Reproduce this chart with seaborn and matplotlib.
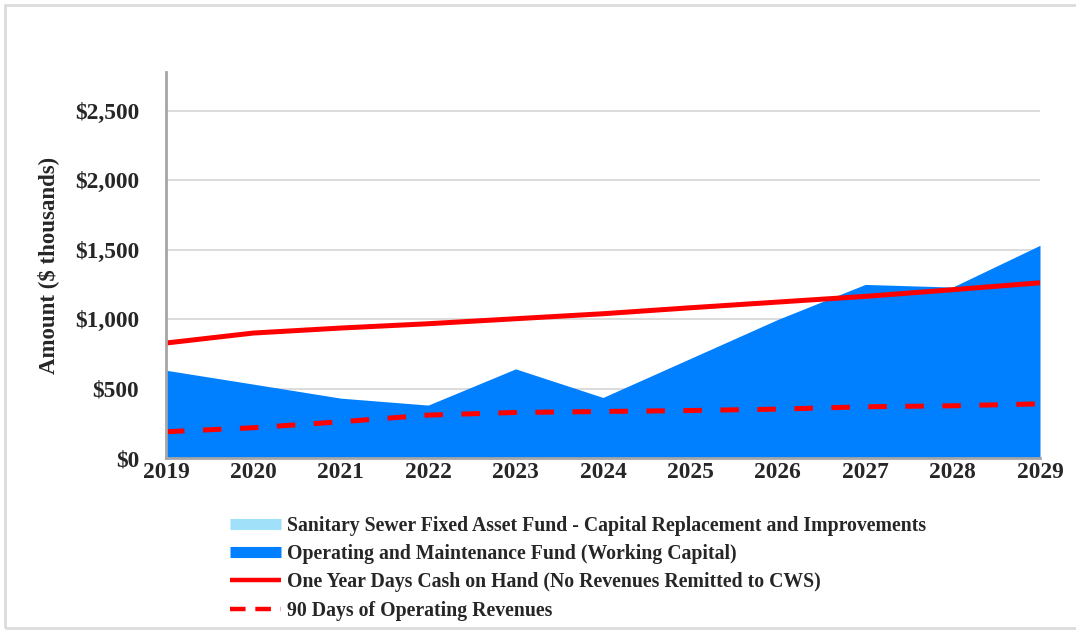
import numpy as np
import pandas as pd
import seaborn as sns
import matplotlib
matplotlib.use("Agg")
import matplotlib.pyplot as plt
from matplotlib.lines import Line2D
from matplotlib.patches import Rectangle
from matplotlib.ticker import FuncFormatter

years = [2019, 2020, 2021, 2022, 2023, 2024, 2025, 2026, 2027, 2028, 2029]
sewer_fund = [0, 0, 0, 0, 0, 0, 0, 0, 0, 0, 0]
om_fund = [632, 532, 431, 381, 642, 436, 717, 998, 1250, 1231, 1532]
one_year_cash = [828, 900, 936, 967, 1003, 1039, 1082, 1123, 1164, 1212, 1262]
ninety_days = [189, 218, 261, 309, 328, 335, 342, 352, 369, 376, 390]
y_ticks = [0, 500, 1000, 1500, 2000, 2500]

labels = [
    "Sanitary Sewer Fixed Asset Fund - Capital Replacement and Improvements",
    "Operating and Maintenance Fund (Working Capital)",
    "One Year Days Cash on Hand (No Revenues Remitted to CWS)",
    "90 Days of Operating Revenues",
]

df = pd.DataFrame({"year": years, "sewer": sewer_fund, "om": om_fund,
                   "cash": one_year_cash, "ninety": ninety_days})

sns.set_theme(style="white")
plt.rcParams["font.family"] = ["Liberation Serif", "DejaVu Serif"]
plt.rcParams["font.weight"] = "bold"

light_blue = "#a0e0f8"
blue = "#0080ff"
red = "#ff0000"

fig = plt.figure(figsize=(10.76, 6.33), dpi=100)
ax = fig.add_axes([166 / 1076, 1 - 458 / 633, (1040 - 166) / 1076, (458 - 72) / 633])

# frame around figure
fig.patches.append(Rectangle((5 / 1076, 5 / 633), 1.05, 1 - 10 / 633, transform=fig.transFigure,
                             fill=False, edgecolor="#dcdcdc", linewidth=2.0))

ax.set_axisbelow(True)
ax.yaxis.grid(True, color="#d9d9d9", linewidth=1.3)
ax.xaxis.grid(False)

sewer_arr = np.array(sewer_fund, dtype=float)
om_arr = np.array(om_fund, dtype=float)
ax.fill_between(df["year"], 0, sewer_arr, color=light_blue, linewidth=0, zorder=2)
ax.fill_between(df["year"], sewer_arr, sewer_arr + om_arr, color=blue, linewidth=0, zorder=2)

sns.lineplot(data=df, x="year", y="cash", ax=ax, color=red, linewidth=3.6, zorder=3)
sns.lineplot(data=df, x="year", y="ninety", ax=ax, color=red, linewidth=3.6, zorder=3,
             dashes=False)
ax.lines[-1].set_dashes((3.7, 3.7))
for ln in ax.lines:
    ln.set_solid_capstyle("butt")
    ln.set_dash_capstyle("butt")

ax.set_xlim(2019, 2029)
ax.set_ylim(0, 2780)
ax.set_xticks(years)
ax.set_yticks(y_ticks)
ax.yaxis.set_major_formatter(FuncFormatter(lambda v, p: "${:,.0f}".format(v)))
ax.set_xlabel("")
ax.set_ylabel("Amount ($ thousands)", fontsize=16.5, fontweight="bold", labelpad=11.5)

for s in ["top", "right"]:
    ax.spines[s].set_visible(False)
for s in ["left", "bottom"]:
    ax.spines[s].set_color("#a6a6a6")
    ax.spines[s].set_linewidth(2.0)
    ax.spines[s].set_zorder(4)

ax.tick_params(axis="both", which="both", length=4.3, width=1.8, color="#a6a6a6",
               labelsize=16.8)
ax.tick_params(axis="y", pad=15)
ax.tick_params(axis="x", pad=-1.5)
for t in ax.get_xticklabels() + ax.get_yticklabels():
    t.set_fontweight("bold")

handles = [
    Line2D([], [], color=light_blue, linewidth=8, solid_capstyle="butt"),
    Line2D([], [], color=blue, linewidth=8, solid_capstyle="butt"),
    Line2D([], [], color=red, linewidth=3.2, solid_capstyle="butt"),
    Line2D([], [], color=red, linewidth=3.2, dashes=(3.5, 2.2), dash_capstyle="butt"),
]
leg = fig.legend(handles, labels, loc="upper left", bbox_to_anchor=(212 / 1076, 1 - 498 / 633),
                 frameon=False, handlelength=2.6, handletextpad=0.3, labelspacing=0.42,
                 prop={"family": "Liberation Serif", "weight": "bold", "size": 14.2})

fig.savefig("out.png", dpi=100, facecolor="white")
